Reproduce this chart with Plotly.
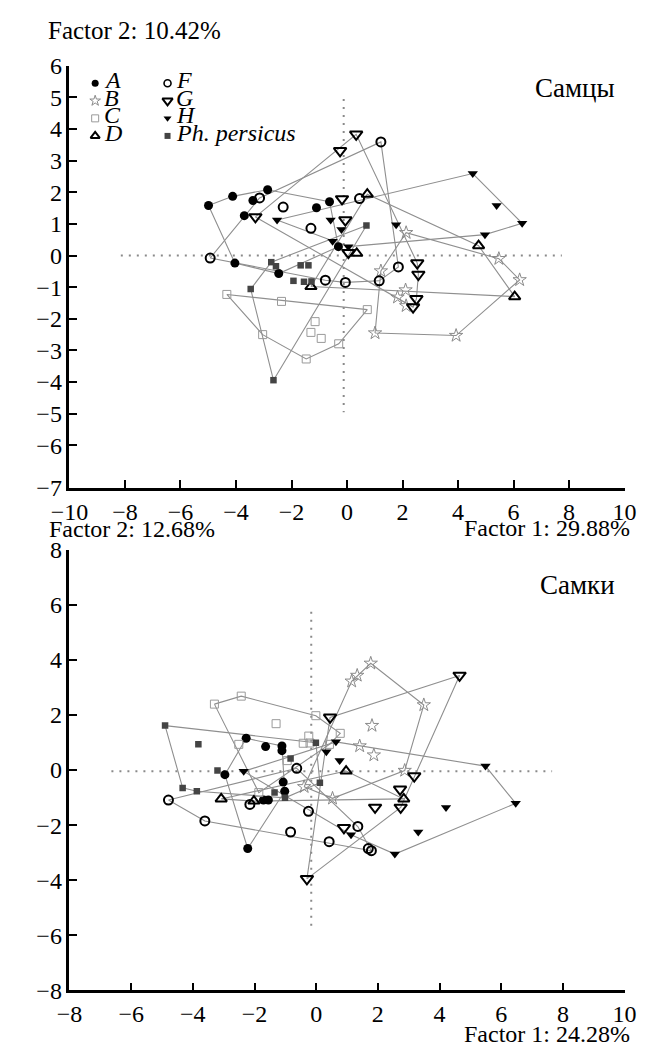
import plotly.graph_objects as go

# ---------------- data: males (Самцы) ----------------
A_m_x = [-4.99, -4.12, -3.39, -2.86, -3.70, -1.10, -0.63, -0.31, -4.04, -2.46]
A_m_y = [1.58, 1.87, 1.74, 2.08, 1.26, 1.51, 1.70, 0.28, -0.24, -0.57]
B_m_x = [1.22, 1.82, 1.01, 2.13, 5.47, 6.22, 2.11, 2.13, 3.93]
B_m_y = [-0.49, -1.32, -2.45, 0.72, -0.10, -0.77, -1.09, -1.59, -2.53]
C_m_x = [-4.33, -2.36, 0.73, -1.15, -1.30, -0.93, -3.04, -0.30, -1.47]
C_m_y = [-1.23, -1.45, -1.71, -2.09, -2.43, -2.62, -2.50, -2.79, -3.27]
D_m_x = [0.73, 0.35, -1.30, 4.74, 6.04]
D_m_y = [1.94, 0.07, -0.98, 0.31, -1.30]
F_m_x = [1.22, -3.15, -2.30, -1.30, 0.45, -4.93, -0.78, -0.06, 1.16, 1.85]
F_m_y = [3.59, 1.82, 1.53, 0.86, 1.80, -0.08, -0.78, -0.85, -0.80, -0.36]
G_m_x = [0.33, -0.25, -3.30, -0.18, -0.06, 0.05, 2.53, 2.57, 2.50, 2.38]
G_m_y = [3.83, 3.31, 1.22, 1.79, 1.12, 0.09, -0.24, -0.60, -1.37, -1.63]
H_m_x = [4.53, 5.39, 6.31, 4.97, 1.77, -2.52, -0.59, -0.20, -0.52, 0.05]
H_m_y = [2.59, 1.58, 1.02, 0.66, 0.97, 1.12, 1.12, 0.82, 0.45, 0.28]
P_m_x = [0.70, -2.73, -2.56, -1.67, -1.39, -1.93, -1.55, -1.28, -3.47, -2.65]
P_m_y = [0.95, -0.21, -0.34, -0.31, -0.31, -0.80, -0.83, -0.82, -1.06, -3.94]

# ---------------- data: females (Самки) ----------------
A_f_x = [-2.27, -1.64, -1.11, -1.11, -2.96, -1.07, -1.02, -1.71, -1.55, -2.22]
A_f_y = [1.15, 0.85, 0.87, 0.70, -0.17, -0.44, -0.77, -1.09, -1.09, -2.85]
B_f_x = [1.77, 1.33, 1.15, 3.49, 1.81, 1.41, 1.87, 2.87, -0.39, 0.53]
B_f_y = [3.87, 3.43, 3.22, 2.36, 1.61, 0.87, 0.54, -0.02, -0.61, -1.03]
C_f_x = [-2.43, -3.30, -1.30, -0.01, -2.51, -0.24, -0.42, -0.20, 0.43, 0.78, -1.86, -0.94]
C_f_y = [2.68, 2.39, 1.68, 1.97, 0.93, 1.23, 0.97, 0.98, 0.93, 1.33, -0.82, 0.34]
D_f_x = [0.97, -3.08, -2.02, 2.84]
D_f_y = [-0.04, -1.05, -1.13, -1.05]
F_f_x = [-0.63, -4.79, -3.61, -2.15, -0.25, -0.83, 0.42, 1.35, 1.69, 1.79]
F_f_y = [0.06, -1.09, -1.85, -1.25, -1.50, -2.25, -2.60, -2.05, -2.85, -2.93]
G_f_x = [4.65, 0.45, 3.18, 2.72, 2.74, 1.91, -0.30, 0.90]
G_f_y = [3.43, 1.91, -0.22, -0.70, -1.36, -1.36, -3.95, -2.10]
H_f_x = [5.49, 6.47, 4.21, 3.31, 2.55, -2.35, 0.64, 0.33, 0.76, 1.13]
H_f_y = [0.14, -1.21, -1.36, -2.25, -3.05, -0.05, 1.02, 0.66, 0.34, -2.35]
P_f_x = [-4.90, -3.82, -0.01, -0.83, -3.20, 0.12, -4.33, -3.87, -1.35, -1.01]
P_f_y = [1.61, 0.93, 0.99, 0.42, -0.02, -0.46, -0.65, -0.77, -0.82, -1.01]

# axis ticks
top_x_ticks = [-10, -8, -6, -4, -2, 0, 2, 4, 6, 8, 10]
top_y_tickvals = [-7.35, -6, -5, -4, -3, -2, -1, 0, 1, 2, 3, 4, 5, 6]
top_y_ticktext = ["−7", "−6", "−5", "−4", "−3", "−2", "−1", "0", "1", "2", "3", "4", "5", "6"]
bot_x_ticks = [-8, -6, -4, -2, 0, 2, 4, 6, 8, 10]
bot_y_ticks = [-8, -6, -4, -2, 0, 2, 4, 6, 8]

# crosshair (dotted) extents
top_h = ([-8.15, 7.74], [0.0, 0.0])
top_v = ([-0.12, -0.12], [4.95, -4.95])
bot_h = ([-6.64, 7.65], [-0.05, -0.05])
bot_v = ([-0.16, -0.16], [5.74, -5.75])

groups = ["A", "B", "C", "D", "F", "G", "H", "P"]
names = {"A": "A", "B": "B", "C": "C", "D": "D", "F": "F", "G": "G", "H": "H", "P": "Ph. persicus"}
styles = {
    "A": dict(symbol="circle", size=9, color="black", line=dict(width=0)),
    "B": dict(symbol="star-open", size=10, color="#8a8a8a", line=dict(width=1, color="#8a8a8a")),
    "C": dict(symbol="square-open", size=8, color="#9a9a9a", line=dict(width=1, color="#9a9a9a")),
    "D": dict(symbol="triangle-up-open", size=10, color="black", line=dict(width=2, color="black")),
    "F": dict(symbol="circle-open", size=9, color="black", line=dict(width=2, color="black")),
    "G": dict(symbol="triangle-down-open", size=11, color="black", line=dict(width=2, color="black")),
    "H": dict(symbol="triangle-down", size=9, color="black", line=dict(width=0)),
    "P": dict(symbol="square", size=6.5, color="#444444", line=dict(width=0)),
}
legend_styles = {
    "A": dict(symbol="circle", size=7, color="black", line=dict(width=0)),
    "B": dict(symbol="star-open", size=8, color="#8a8a8a", line=dict(width=1, color="#8a8a8a")),
    "C": dict(symbol="square-open", size=7, color="#9a9a9a", line=dict(width=1, color="#9a9a9a")),
    "D": dict(symbol="triangle-up-open", size=8, color="black", line=dict(width=2, color="black")),
    "F": dict(symbol="circle-open", size=7, color="black", line=dict(width=1.6, color="black")),
    "G": dict(symbol="triangle-down-open", size=9, color="black", line=dict(width=2, color="black")),
    "H": dict(symbol="triangle-down", size=7, color="black", line=dict(width=0)),
    "P": dict(symbol="square", size=6, color="#444444", line=dict(width=0)),
}
males = {"A": (A_m_x, A_m_y), "B": (B_m_x, B_m_y), "C": (C_m_x, C_m_y), "D": (D_m_x, D_m_y),
         "F": (F_m_x, F_m_y), "G": (G_m_x, G_m_y), "H": (H_m_x, H_m_y), "P": (P_m_x, P_m_y)}
females = {"A": (A_f_x, A_f_y), "B": (B_f_x, B_f_y), "C": (C_f_x, C_f_y), "D": (D_f_x, D_f_y),
           "F": (F_f_x, F_f_y), "G": (G_f_x, G_f_y), "H": (H_f_x, H_f_y), "P": (P_f_x, P_f_y)}


def hull(xs, ys):
    pts = sorted(set(zip(xs, ys)))
    if len(pts) < 3:
        return pts

    def cross(o, a, b):
        return (a[0] - o[0]) * (b[1] - o[1]) - (a[1] - o[1]) * (b[0] - o[0])
    lower, upper = [], []
    for p in pts:
        while len(lower) >= 2 and cross(lower[-2], lower[-1], p) <= 0:
            lower.pop()
        lower.append(p)
    for p in reversed(pts):
        while len(upper) >= 2 and cross(upper[-2], upper[-1], p) <= 0:
            upper.pop()
        upper.append(p)
    h = lower[:-1] + upper[:-1]
    return h + [h[0]]


fig = go.Figure()
HULL = dict(color="#8f8f8f", width=1.1)
DOT = dict(color="#8a8a8a", width=2, dash="2px,6px")

for data, xa, ya in [(males, "x", "y"), (females, "x2", "y2")]:
    ch, cv = (top_h, top_v) if xa == "x" else (bot_h, bot_v)
    fig.add_trace(go.Scatter(x=ch[0], y=ch[1], mode="lines", line=DOT, xaxis=xa, yaxis=ya,
                             showlegend=False, hoverinfo="skip"))
    fig.add_trace(go.Scatter(x=cv[0], y=cv[1], mode="lines", line=DOT, xaxis=xa, yaxis=ya,
                             showlegend=False, hoverinfo="skip"))
    for g in groups:
        hx, hy = zip(*hull(*data[g]))
        fig.add_trace(go.Scatter(x=list(hx), y=list(hy), mode="lines", line=HULL,
                                 xaxis=xa, yaxis=ya, showlegend=False, hoverinfo="skip"))
    for g in groups:
        xs, ys = data[g]
        fig.add_trace(go.Scatter(x=xs, y=ys, mode="markers", marker=styles[g], name=names[g],
                                 xaxis=xa, yaxis=ya, showlegend=False))

W, H = 648.0, 1061.0

# ---- manual legend (two columns, tight rows) drawn in a pixel-space overlay ----
leg_marker_x = [80, 156]
leg_text_x = [87, 163]
leg_row0 = 72
leg_dy = 18
for i, g in enumerate(groups):
    col, row = divmod(i, 4)
    fig.add_trace(go.Scatter(x=[leg_marker_x[col]], y=[leg_row0 + row * leg_dy], mode="markers",
                             marker=legend_styles[g], xaxis="x3", yaxis="y3", showlegend=False,
                             cliponaxis=False, hoverinfo="skip"))
    fig.add_annotation(text="<i>%s</i>" % names[g], x=leg_text_x[col] / W,
                       y=1 - (leg_row0 - 3 + row * leg_dy) / H, xref="paper", yref="paper",
                       xanchor="left", yanchor="middle", showarrow=False,
                       font=dict(family="Liberation Serif, serif", size=24, color="black"))

xdom = [53 / W, 636 / W]
FONT = dict(family="Liberation Serif, Times New Roman, serif", size=24, color="black")
axis_common = dict(showline=True, linewidth=2.5, linecolor="black", ticks="inside", ticklen=8,
                   tickwidth=2, tickcolor="black", showgrid=False, zeroline=False,
                   tickfont=FONT, mirror=False)

fig.update_layout(
    width=648, height=1061,
    margin=dict(l=0, r=0, t=0, b=0),
    paper_bgcolor="white", plot_bgcolor="rgba(0,0,0,0)",
    font=FONT,
    showlegend=False,
    xaxis=dict(domain=xdom, range=[-10, 10], tickvals=top_x_ticks, anchor="y", **axis_common),
    yaxis=dict(domain=[1 - 487 / H, 1 - 54 / H], range=[-7.35, 6], tickvals=top_y_tickvals,
               ticktext=top_y_ticktext, anchor="x", **axis_common),
    xaxis2=dict(domain=xdom, range=[-8, 10], tickvals=bot_x_ticks, anchor="y2", **axis_common),
    yaxis2=dict(domain=[1 - 1002 / H, 1 - 550 / H], range=[-8, 8], tickvals=bot_y_ticks,
                anchor="x2", **axis_common),
    xaxis3=dict(domain=[0, 1], range=[0, W], visible=False, anchor="y3", fixedrange=True),
    yaxis3=dict(domain=[0, 1], range=[H, 0], visible=False, anchor="x3", fixedrange=True),
)

ann = [
    ("Factor 2: 10.42%", 28, 18, "left", 25),
    ("Самцы", 628, 77, "right", 27),
    ("Factor 1: 29.88%", 644, 528, "right", 24),
    ("Factor 2: 12.68%", 29, 529, "left", 24),
    ("Самки", 628, 586, "right", 27),
    ("Factor 1: 24.28%", 644, 1047, "right", 24),
]
for text, x, y, anc, fs in ann:
    fig.add_annotation(text=text, x=x / W, y=1 - y / H, xref="paper", yref="paper",
                       xanchor=anc, yanchor="middle", showarrow=False,
                       font=dict(family="Liberation Serif, serif", size=fs, color="black"))

fig.write_html(
    "out.html",
    config={"displayModeBar": False},
    post_script="document.body.style.margin='0px';document.body.style.padding='0px';"
                "document.documentElement.style.overflow='hidden';document.body.style.overflow='hidden';",
)
